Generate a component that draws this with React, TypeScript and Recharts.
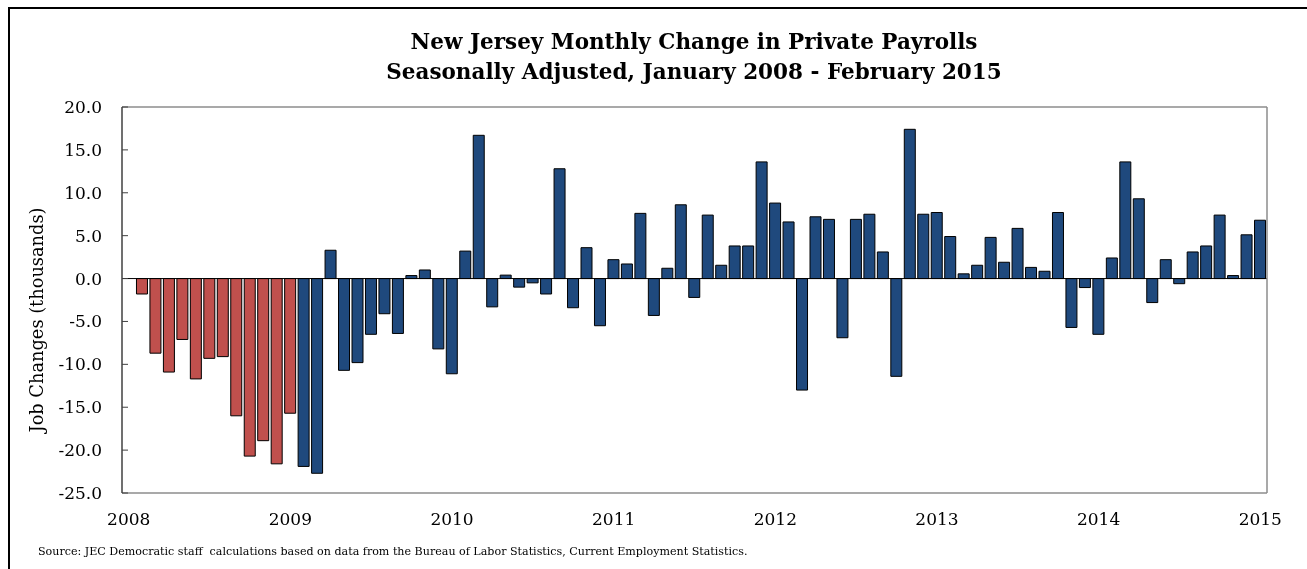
import * as React from "react"
import { Bar, BarChart, Cell, ReferenceLine, XAxis, YAxis } from "recharts"

// monthly change in private payrolls, thousands
const years = [2008, 2009, 2010, 2011, 2012, 2013, 2014]
const monthNames = ["Jan", "Feb", "Mar", "Apr", "May", "Jun", "Jul", "Aug", "Sep", "Oct", "Nov", "Dec"]
// the axis has one empty slot before the first bar; year labels sit on the December slots
const leadMonth = "Dec 2007"

const v2008 = [-1.8, -8.7, -10.9, -7.1, -11.7, -9.3, -9.1, -16.0, -20.7, -18.9, -21.6, -15.7]
const v2009 = [-21.9, -22.7, 3.3, -10.7, -9.8, -6.5, -4.1, -6.4, 0.35, 1.0, -8.2, -11.1]
const v2010 = [3.2, 16.7, -3.3, 0.4, -1.0, -0.5, -1.8, 12.8, -3.4, 3.6, -5.5, 2.2]
const v2011 = [1.7, 7.6, -4.3, 1.2, 8.6, -2.2, 7.4, 1.55, 3.8, 3.8, 13.6, 8.8]
const v2012 = [6.6, -13.0, 7.2, 6.9, -6.9, 6.9, 7.5, 3.1, -11.4, 17.4, 7.5, 7.7]
const v2013 = [4.9, 0.55, 1.55, 4.8, 1.9, 5.85, 1.3, 0.85, 7.7, -5.7, -1.05, -6.5]
const v2014 = [2.4, 13.6, 9.3, -2.8, 2.2, -0.6, 3.1, 3.8, 7.4, 0.35, 5.1, 6.8]

const yearTickMonths = ["Dec 2007", "Dec 2008", "Dec 2009", "Dec 2010", "Dec 2011", "Dec 2012", "Dec 2013", "Dec 2014"]
const valueTicks = [-25, -20, -15, -10, -5, 0, 5, 10, 15, 20]
const redYears = [2008]

const RED = "#C0504D"
const BLUE = "#1F497D"
const FRAME = "#8c8c8c"
const FONT = "'DejaVu Serif', serif"

const allValues = [v2008, v2009, v2010, v2011, v2012, v2013, v2014]
const data = [
    { month: leadMonth, year: 2007, change: null as number | null },
    ...years.flatMap((yr, yi) =>
        monthNames.map((m, mi) => ({ month: `${m} ${yr}`, year: yr, change: allValues[yi][mi] as number | null }))
    ),
]

export default function App() {
    // fixed box so the outer border can run off the page edges without scrollbars
    return (
        <div style={{ position: "fixed", left: 8, top: 7, width: 1297, height: 560, borderLeft: "2px solid #000", borderTop: "2px solid #000", fontFamily: FONT }}>
            <div style={{ position: "absolute", left: 284, width: 800, top: 18, textAlign: "center", fontWeight: "bold", fontSize: 21.5, lineHeight: "30px", color: "#000" }}>
                <div>New Jersey Monthly Change in Private Payrolls</div>
                <div>Seasonally Adjusted, January 2008 - February 2015</div>
            </div>
            <div style={{ position: "absolute", left: 27 - 150, top: 311 - 12, width: 300, height: 24, lineHeight: "24px", textAlign: "center", fontSize: 17.8, transform: "rotate(-90deg)" }}>
                Job Changes (thousands)
            </div>
            <div style={{ position: "absolute", left: 28, top: 536, fontSize: 11.1, lineHeight: "14px", whiteSpace: "pre" }}>
                Source: JEC Democratic staff  calculations based on data from the Bureau of Labor Statistics, Current Employment Statistics.
            </div>
            <div style={{ position: "absolute", left: 0, top: 0 }}>
                <BarChart width={1297} height={550} data={data} margin={{ top: 97, right: 39, bottom: 36, left: 12 }}>
                    <XAxis
                        xAxisId="m"
                        dataKey="month"
                        ticks={yearTickMonths}
                        interval={0}
                        height={30}
                        tickSize={0}
                        tickMargin={20}
                        tickLine={false}
                        axisLine={{ stroke: FRAME, strokeWidth: 1.5 }}
                        tick={{ fill: "#000", fontSize: 17, fontFamily: FONT }}
                        tickFormatter={(v: string) => String(Number(v.slice(4)) + 1)}
                    />
                    <XAxis xAxisId="top" dataKey="month" orientation="top" height={1} tick={false} tickLine={false} axisLine={{ stroke: FRAME, strokeWidth: 1.5 }} />
                    <YAxis
                        yAxisId="l"
                        domain={[-25, 20]}
                        ticks={valueTicks}
                        interval={0}
                        width={100}
                        tickSize={-6}
                        tickMargin={26}
                        tickLine={{ stroke: "#404040" }}
                        axisLine={{ stroke: "#404040", strokeWidth: 1.5 }}
                        tick={{ fill: "#000", fontSize: 17, fontFamily: FONT }}
                        tickFormatter={(v: number) => v.toFixed(1)}
                    />
                    <YAxis yAxisId="r" orientation="right" domain={[-25, 20]} width={1} tick={false} tickLine={false} axisLine={{ stroke: FRAME, strokeWidth: 1.5 }} />
                    <Bar dataKey="change" xAxisId="m" yAxisId="l" barSize={11} stroke="#000" strokeWidth={1} isAnimationActive={false}>
                        {data.map((d) => (
                            <Cell key={d.month} fill={redYears.includes(d.year) ? RED : BLUE} />
                        ))}
                    </Bar>
                    <ReferenceLine xAxisId="m" yAxisId="l" y={0} stroke="#000" strokeWidth={1} />
                </BarChart>
            </div>
        </div>
    )
}
